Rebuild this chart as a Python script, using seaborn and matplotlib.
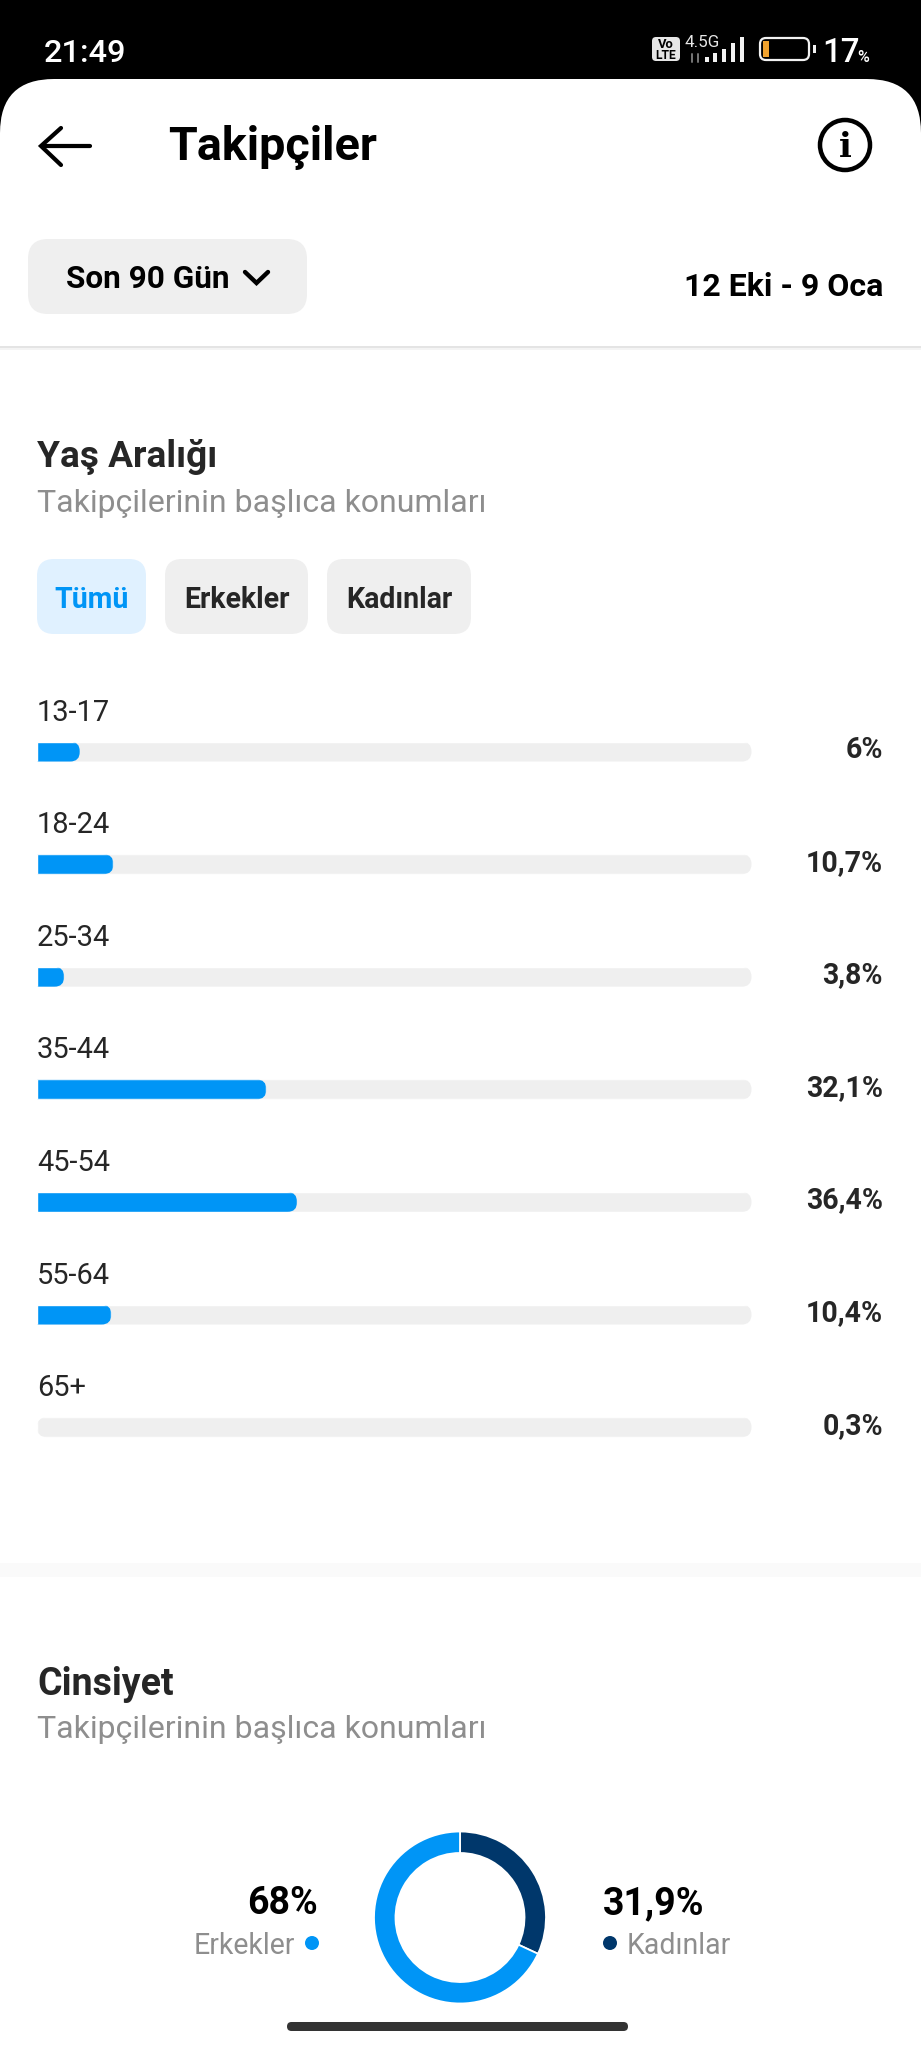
# Instagram - tela de Takipçiler (idade e gênero)
import pandas as pd
import matplotlib.pyplot as plt
import seaborn as sns
from matplotlib.patches import FancyBboxPatch, Circle, Rectangle

# Dados
faixas = ['13-17', '18-24', '25-34', '35-44', '45-54', '55-64', '65+']
valores = [6, 10.7, 3.8, 32.1, 36.4, 10.4, 0.3]
rotulos = ['6%', '10,7%', '3,8%', '32,1%', '36,4%', '10,4%', '0,3%']
trilha = [100, 100, 100, 100, 100, 100, 100]
generos = ['Kadınlar', 'Erkekler']
generos_val = [31.9, 68]
filtros = ['Tümü', 'Erkekler', 'Kadınlar']

AZUL = '#0095f6'
MARINHO = '#00376b'
CINZA = '#efefef'
TEXTO = '#262626'
SUB = '#8e8e8e'

sns.set_theme(style='white')
plt.rcParams['font.family'] = ['Roboto', 'DejaVu Sans']

W, H = 921, 2048
fig = plt.figure(figsize=(W / 100, H / 100), dpi=100, facecolor='black')


def px(v):
    # tamanho em pixels para pontos
    return v * 0.72


def eixo_px(x0, y0, x1, y1):
    return fig.add_axes([x0 / W, 1 - y1 / H, (x1 - x0) / W, (y1 - y0) / H])


ui = fig.add_axes([0, 0, 1, 1])
ui.set_xlim(0, W)
ui.set_ylim(H, 0)
ui.axis('off')
ui.patch.set_alpha(0)


def caixa(x0, y0, x1, y1, r, cor, ax=ui, z=1):
    p = FancyBboxPatch((x0 + r, y0 + r), x1 - x0 - 2 * r, y1 - y0 - 2 * r,
                       boxstyle=f'round,pad={r},rounding_size={r}',
                       fc=cor, ec='none', zorder=z, transform=ax.transData)
    return p


def texto(x, y, s, tam, cor='black', peso='normal', ha='left'):
    ui.text(x, y, s, fontsize=px(tam), color=cor, fontweight=peso, ha=ha, va='baseline', zorder=5)


# Fundo branco com cantos arredondados
ui.add_patch(caixa(0, 79, W, H + 120, 54, 'white'))

# Barra de status
texto(44, 62, '21:49', 32.5, 'white', 'medium')
ui.add_patch(caixa(652, 37, 680, 61, 4, '#e6e6e6', z=3))
ui.text(666, 48, 'Vo', fontsize=px(13), color='black', fontweight='bold', ha='center', va='baseline', zorder=5)
ui.text(666, 59, 'LTE', fontsize=px(12), color='black', fontweight='bold', ha='center', va='baseline', zorder=5)
texto(684, 47, '4.5G', 17, '#e6e6e6')
ui.plot([692, 692], [54, 62], color='#777777', lw=1.4, zorder=3)
ui.plot([698, 698], [54, 62], color='#777777', lw=1.4, zorder=3)
for xb, topo in zip([707, 715, 724, 733, 742], [57, 53, 49, 43, 37]):
    ui.add_patch(Rectangle((xb - 2.4, topo), 4.8, 62 - topo, fc='#f2f2f2', ec='none', zorder=3))
ui.add_patch(FancyBboxPatch((763, 41), 43, 16, boxstyle='round,pad=3,rounding_size=6',
                            fc='black', ec='#f2f2f2', lw=1.6, zorder=3))
ui.add_patch(Rectangle((763, 41), 6, 16, fc='#f0a22e', ec='none', zorder=4))
ui.add_patch(Rectangle((813, 45), 2.5, 8, fc='#f2f2f2', ec='none', zorder=3))
texto(822, 62, '17', 33, 'white', 'medium')
texto(857, 62, '%', 16, 'white', 'medium')

# Cabeçalho
ui.plot([90, 42], [146, 146], color='black', lw=px(4.2), solid_capstyle='round', zorder=3)
ui.plot([61, 41, 61], [128, 146, 165], color='black', lw=px(4.2), solid_capstyle='round',
        solid_joinstyle='miter', zorder=3)
texto(168, 160, 'Takipçiler', 46.8, 'black', 'bold')
ui.add_patch(Circle((845, 145), 25, fc='none', ec='black', lw=px(4.5), zorder=3))
ui.text(845, 157, 'i', fontsize=px(34), family='DejaVu Serif', fontweight='bold', color='black',
        ha='center', va='baseline', zorder=5)

# Seletor de período
ui.add_patch(caixa(28, 239, 307, 314, 20, CINZA))
texto(66, 288, 'Son 90 Gün', 31.5, 'black', 'bold')
ui.plot([245, 256.5, 268], [272, 283, 272], color='black', lw=px(4.4), solid_joinstyle='miter', zorder=3)
texto(883, 296, '12 Eki - 9 Oca', 32, 'black', 'bold', ha='right')
ui.add_patch(Rectangle((0, 346), W, 1.5, fc='#e4e4e4', ec='none', zorder=2))
ui.add_patch(Rectangle((0, 347.5), W, 2, fc='#f4f4f4', ec='none', zorder=2))

# Seção idade
texto(37, 467, 'Yaş Aralığı', 37, TEXTO, 'bold')
texto(37, 512, 'Takipçilerinin başlıca konumları', 32, SUB)

limites = [(37, 146), (165, 308), (327, 471)]
for i, (nome, (x0, x1)) in enumerate(zip(filtros, limites)):
    ui.add_patch(caixa(x0, 559, x1, 634, 17, '#e0f1ff' if i == 0 else CINZA))
    texto((x0 + x1) / 2, 608, nome, 28.5, AZUL if i == 0 else TEXTO, 'bold', ha='center')

# Barras
Y0, PASSO, ALTURA = 751.6, 112.6, 20
X0, X1 = 37, 751.5
ax = eixo_px(X0, Y0 - PASSO / 2, X1, Y0 + 6.5 * PASSO)
df = pd.DataFrame({'faixa': faixas, 'valor': valores, 'trilha': trilha})
sns.barplot(data=df, y='faixa', x='trilha', color=CINZA, width=ALTURA / PASSO, saturation=1, ax=ax)
n_trilha = len(ax.patches)
sns.barplot(data=df, y='faixa', x='valor', color=AZUL, width=ALTURA / PASSO, saturation=1, ax=ax)
ax.set_xlim(0, 100)
ax.set_ylim(6.5, -0.5)
ax.axis('off')
ax.patch.set_alpha(0)

# Pontas arredondadas das barras
conv = ax.transData + ui.transData.inverted()
for i, barra in enumerate(ax.patches):
    (xa, ya), (xb, yb) = conv.transform([(barra.get_x(), barra.get_y()),
                                         (barra.get_x() + barra.get_width(), barra.get_y() + barra.get_height())])
    ytop, ybot = min(ya, yb), max(ya, yb)
    esquerda = xa if i < n_trilha else xa - 12
    barra.set_clip_path(caixa(esquerda, ytop, max(xb, esquerda + 20), ybot, 10, 'none'))
    # barra muito curta nao aparece na tela original
    if barra.get_width() < 1:
        barra.set_visible(False)

for i, (faixa, rotulo) in enumerate(zip(faixas, rotulos)):
    yc = Y0 + i * PASSO
    texto(37, yc - 31, faixa, 29, TEXTO)
    texto(883, yc + 6.5, rotulo, 28.5, TEXTO, 'bold', ha='right')

# Separador
ui.add_patch(Rectangle((0, 1563), W, 14, fc='#fafafa', ec='none', zorder=2))

# Seção gênero
texto(37, 1695, 'Cinsiyet', 37.5, TEXTO, 'bold')
texto(37, 1738, 'Takipçilerinin başlıca konumları', 32, SUB)

CX, CY, R = 460, 1917.5, 86
ax_pie = eixo_px(CX - R, CY - R, CX + R, CY + R)
ax_pie.pie(generos_val, colors=[MARINHO, AZUL], startangle=90, counterclock=False, radius=1,
           wedgeprops=dict(width=21.5 / R, edgecolor='white', linewidth=1.3))
ax_pie.set_xlim(-1, 1)
ax_pie.set_ylim(-1, 1)
ax_pie.axis('off')
ax_pie.patch.set_alpha(0)

texto(318, 1914, '68%', 37.5, 'black', 'bold', ha='right')
texto(295, 1954, 'Erkekler', 28.5, SUB, ha='right')
ui.add_patch(Circle((312, 1943), 7, fc=AZUL, ec='none', zorder=3))
texto(603, 1914, '31,9%', 37.5, 'black', 'bold')
ui.add_patch(Circle((610, 1943), 7, fc=MARINHO, ec='none', zorder=3))
texto(627, 1954, 'Kadınlar', 28.5, SUB)

# Barra de navegação
ui.add_patch(caixa(287, 2022, 628, 2031, 4.5, '#333333', z=6))

fig.savefig('out.png', dpi=100, facecolor='black')
